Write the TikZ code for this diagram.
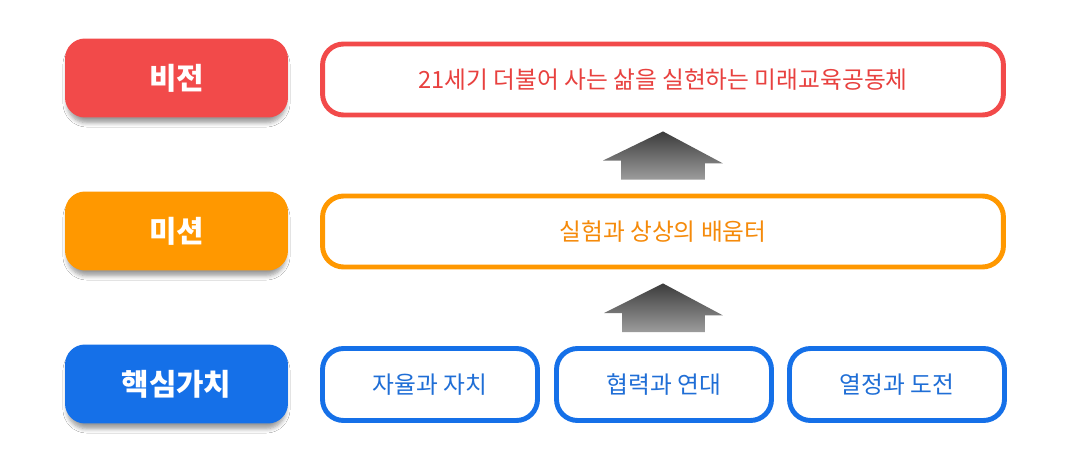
\documentclass[tikz,border=0pt]{standalone}
\usepackage{fontspec}
\setmainfont{Noto Sans CJK KR}
\usepackage{xcolor}
\usepackage{tikz}
\usetikzlibrary{shadows.blur, calc}
\definecolor{rojo}{HTML}{F24A4A}
\definecolor{naranja}{HTML}{FF9800}
\definecolor{azul}{HTML}{1570E8}
\definecolor{textorojo}{HTML}{E8413F}
\definecolor{textonaranja}{HTML}{F58A0A}
\definecolor{textoazul}{HTML}{1F6ED6}
\definecolor{flechaoscura}{HTML}{3C3C3C}
\definecolor{flechaclara}{HTML}{9C9C9C}
\tikzset{
  etiqueta/.style={rectangle, rounded corners=0.4cm, minimum width=4.46cm,
    minimum height=1.58cm, text=white, font=\fontsize{17}{19}\selectfont\bfseries,
    blur shadow={shadow xshift=0pt, shadow yshift=-3.5pt, shadow scale=0.98,
      shadow blur radius=2.5pt, shadow blur steps=6, shadow opacity=40}},
  caja/.style={rectangle, rounded corners=0.42cm, line width=2.8pt, fill=white,
    minimum height=1.42cm, font=\fontsize{13.5}{16}\selectfont},
  flecha/.style={top color=flechaoscura, bottom color=flechaclara}
}
% flecha de bloque: de la caja de abajo (#1) a la de arriba (#2)
\newcommand{\flechabloque}[2]{
  \shade[flecha]
    ($(#2.south)+(0cm,-0.28cm)$) -- ++(1.2cm,-0.64cm) -- ++(-0.36cm,0cm)
    |- ($(#1.north)+(0cm,0.28cm)$) -- ++(-0.84cm,0cm) |- ++(-0.36cm,0.38cm)
    -- cycle;
}

\begin{document}
\begin{tikzpicture}[x=0.02cm, y=-0.02cm]
  \useasboundingbox[fill=white] (0,0) rectangle (1080,469);

  % --- Etiquetas de la izquierda ---
  \node[etiqueta, fill=rojo] (vision) at (176.5,78) {비전};
  \node[etiqueta, fill=naranja] (mision) at (176.5,231) {미션};
  \node[etiqueta, fill=azul] (valores) at (176.5,384) {핵심가치};

  % --- Cajas de contenido ---
  \node[caja, draw=rojo, text=textorojo, minimum width=13.62cm] (cvision)
    at (663,79.5) {21세기 더불어 사는 삶을 실현하는 미래교육공동체};
  \node[caja, draw=naranja, text=textonaranja, minimum width=13.62cm] (cmision)
    at (663,231.5) {실험과 상상의 배움터};
  \node[caja, draw=azul, text=textoazul, minimum width=4.3cm, minimum height=1.44cm]
    (autonomia) at (430,384.5) {자율과 자치};
  \node[caja, draw=azul, text=textoazul, minimum width=4.3cm, minimum height=1.44cm]
    (cooperacion) at (664,384.5) {협력과 연대};
  \node[caja, draw=azul, text=textoazul, minimum width=4.3cm, minimum height=1.44cm]
    (pasion) at (897,384.5) {열정과 도전};

  % --- Flechas ---
  \flechabloque{cmision}{cvision}
  \flechabloque{cooperacion}{cmision}

\end{tikzpicture}
\end{document}
